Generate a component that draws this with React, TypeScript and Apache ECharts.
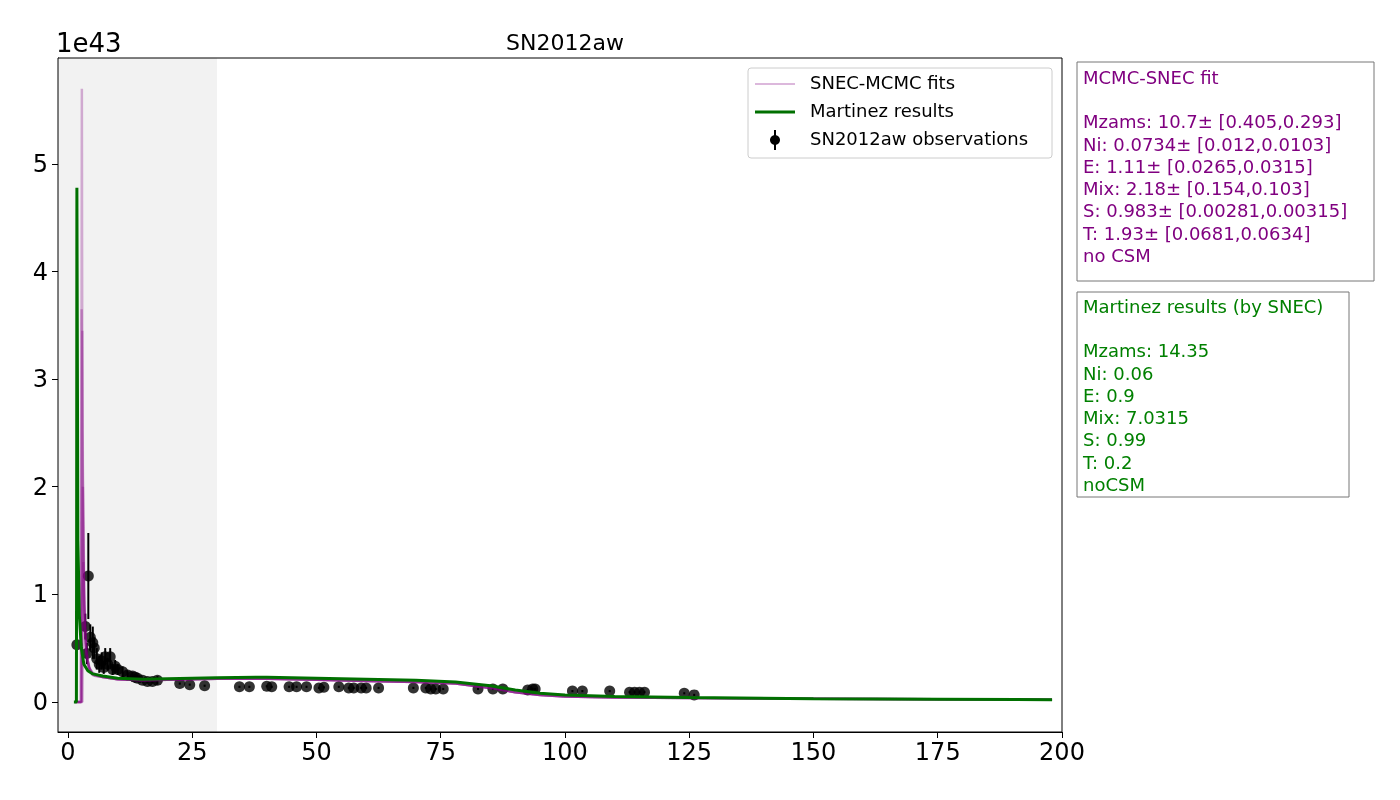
import React, { useEffect, useRef } from "react";
import * as echarts from "echarts";

const obsX = [1.8,3.5,4.1,3.8,4.5,5,5.3,5.8,6.3,6.8,7.2,7.5,8,8.5,9,9.5,10,11,12,13,13.5,14,15,16,17,18,22.5,24.5,27.5,34.5,36.5,40,41,44.5,46,48,50.5,51.5,54.5,56.5,57.5,59,60,62.5,69.5,72,73,74,75.5,82.5,85.5,87.5,92.5,93.5,94,101.5,103.5,109,113,114,115,116,124,126];
const obsY = [0.53,0.7,1.17,0.45,0.6,0.55,0.5,0.4,0.35,0.38,0.32,0.42,0.35,0.42,0.3,0.33,0.3,0.28,0.25,0.24,0.23,0.22,0.2,0.19,0.19,0.2,0.17,0.16,0.15,0.14,0.14,0.145,0.14,0.14,0.14,0.14,0.13,0.135,0.14,0.13,0.13,0.13,0.13,0.13,0.13,0.13,0.12,0.12,0.12,0.12,0.12,0.12,0.11,0.12,0.12,0.1,0.1,0.1,0.09,0.09,0.09,0.09,0.08,0.065];
const obsErr = [0.05,0.12,0.4,0.1,0.12,0.15,0.1,0.1,0.08,0.08,0.06,0.08,0.06,0.08,0.05,0.06,0.05,0.05,0.04,0.04,0.03,0.03,0.02,0.02,0.02,0.04,0.01,0.01,0.01,0.01,0.01,0.01,0.01,0.01,0.01,0.01,0.01,0.01,0.01,0.01,0.01,0.01,0.01,0.01,0.01,0.01,0.01,0.01,0.01,0.01,0.01,0.01,0.01,0.01,0.01,0.01,0.01,0.01,0.01,0.01,0.01,0.01,0.01,0.01];

const martinez = [[1.2,0],[1.7,0],[1.75,1.5],[1.8,4.78],[1.9,4.78],[2.0,1.5],[2.3,0.8],[2.7,0.5],[3.2,0.35],[4,0.29],[5,0.26],[7,0.24],[10,0.22],[15,0.21],[20,0.215],[30,0.225],[40,0.23],[50,0.22],[60,0.21],[70,0.2],[78,0.185],[85,0.15],[90,0.11],[95,0.08],[100,0.065],[110,0.05],[125,0.04],[150,0.03],[175,0.025],[198,0.02]];

const tail = [[7,0.23],[10,0.21],[15,0.2],[20,0.205],[30,0.215],[40,0.215],[50,0.205],[60,0.195],[70,0.185],[78,0.17],[85,0.13],[90,0.09],[95,0.065],[100,0.05],[110,0.04],[125,0.035],[150,0.03],[175,0.025],[198,0.02]];
const fit1 = [[1.5,0],[2.6,0],[2.7,2.0],[2.8,5.7],[2.9,2.5],[3.2,1.0],[3.6,0.5],[4.2,0.32],[5,0.27],...tail];
const fit2 = [[1.5,0],[2.6,0],[2.7,1.6],[2.75,3.65],[2.9,2.0],[3.2,0.9],[3.6,0.5],[4.2,0.32],[5,0.26],...tail];
const fit3 = [[1.5,0],[2.7,0],[2.8,1.6],[2.9,3.45],[3.0,2.2],[3.3,0.9],[3.7,0.45],[4.3,0.3],[5,0.25],...tail];
const fit4 = [[1.5,0],[2.8,0],[2.9,1.2],[3.0,2.0],[3.1,1.4],[3.4,0.7],[3.8,0.4],[4.4,0.3],[5,0.25],...tail];
const fit5 = [[1.5,0],[2.9,0],[3.0,0.9],[3.1,1.3],[3.3,0.9],[3.6,0.55],[4,0.38],[4.6,0.28],[5.5,0.24],...tail];
const fits = [fit1, fit2, fit3, fit4, fit5];

const xTicks = [0,25,50,75,100,125,150,175,200];
const yTicks = [0,1,2,3,4,5];

const mcmcText = ["MCMC-SNEC fit","","Mzams: 10.7± [0.405,0.293]","Ni: 0.0734± [0.012,0.0103]","E: 1.11± [0.0265,0.0315]","Mix: 2.18± [0.154,0.103]","S: 0.983± [0.00281,0.00315]","T: 1.93± [0.0681,0.0634]","no CSM"];
const martText = ["Martinez results (by SNEC)","","Mzams: 14.35","Ni: 0.06","E: 0.9","Mix: 7.0315","S: 0.99","T: 0.2","noCSM"];

const F = "DejaVu Sans";

export default function App() {
  const ref = useRef<HTMLDivElement>(null);
  useEffect(() => {
    const chart = echarts.init(ref.current!, null, { renderer: "svg" });
    const obs = obsX.map((x, i) => [x, obsY[i], obsErr[i]]);
    const series: any[] = [
      {
        type: "line", data: [], silent: true,
        markArea: { silent: true, itemStyle: { color: "#f2f2f2" }, data: [[{ xAxis: -2 }, { xAxis: 30 }]] },
      },
      ...fits.map((f) => ({
        type: "line", data: f, showSymbol: false, silent: true,
        lineStyle: { color: "purple", width: 2.5, opacity: 0.3 },
      })),
      {
        type: "line", data: martinez, showSymbol: false, silent: true,
        lineStyle: { color: "#007000", width: 3 },
      },
      {
        type: "custom", data: obs, silent: true,
        renderItem: (params: any, api: any) => {
          const x = api.value(0), y = api.value(1), e = api.value(2);
          const p1 = api.coord([x, y - e]);
          const p2 = api.coord([x, y + e]);
          return { type: "line", shape: { x1: p1[0], y1: p1[1], x2: p2[0], y2: p2[1] }, style: { stroke: "#000", lineWidth: 2 } };
        },
      },
      {
        type: "scatter", data: obs.map((o) => [o[0], o[1]]), symbolSize: 11, silent: true,
        itemStyle: { color: "#000" },
      },
    ];
    const txt = (lines: string[], color: string, x: number, y: number) => ({
      type: "text", left: x, top: y,
      style: { text: lines.join("\n"), fill: color, font: `18px "${F}"`, lineHeight: 22.3 },
    });
    chart.setOption({
      animation: false,
      grid: { left: 58, right: 338, top: 58, bottom: 68 },
      title: { text: "SN2012aw", left: 560, top: 26, textAlign: "center", textStyle: { fontFamily: F, fontSize: 22, fontWeight: "normal", color: "#000" } },
      xAxis: {
        type: "value", min: -2, max: 200,
        axisLine: { onZero: false, lineStyle: { color: "#000" } },
        splitLine: { show: false },
        axisTick: { customValues: xTicks, length: 6, lineStyle: { color: "#000" } },
        axisLabel: { customValues: xTicks, color: "#000", fontFamily: F, fontSize: 24, margin: 8 },
      },
      yAxis: {
        type: "value", min: -0.28, max: 5.985,
        axisLine: { show: true, onZero: false, lineStyle: { color: "#000" } },
        splitLine: { show: false },
        axisTick: { show: true, customValues: yTicks, length: 6, lineStyle: { color: "#000" } },
        axisLabel: { customValues: yTicks, color: "#000", fontFamily: F, fontSize: 24, margin: 10 },
      },
      series,
      graphic: [
        { type: "rect", shape: { x: 58, y: 58, width: 1004, height: 674 }, style: { fill: "none", stroke: "#000", lineWidth: 1 }, silent: true, z: 100 },
        { type: "text", left: 56, top: 30, style: { text: "1e43", fill: "#000", font: `26px "${F}"` } },
        { type: "rect", shape: { x: 748, y: 68, width: 304, height: 90, r: 3 }, style: { fill: "rgba(255,255,255,0.85)", stroke: "#ccc", lineWidth: 1 }, z: 50 },
        { type: "line", shape: { x1: 755, y1: 84, x2: 795, y2: 84 }, style: { stroke: "#dcb8dc", lineWidth: 2 }, z: 51 },
        { type: "line", shape: { x1: 755, y1: 112, x2: 795, y2: 112 }, style: { stroke: "#007000", lineWidth: 3 }, z: 51 },
        { type: "line", shape: { x1: 775, y1: 130, x2: 775, y2: 150 }, style: { stroke: "#000", lineWidth: 2 }, z: 51 },
        { type: "circle", shape: { cx: 775, cy: 140, r: 5 }, style: { fill: "#000" }, z: 51 },
        { type: "text", left: 810, top: 73, z: 51, style: { text: "SNEC-MCMC fits", fill: "#000", font: `18px "${F}"` } },
        { type: "text", left: 810, top: 101, z: 51, style: { text: "Martinez results", fill: "#000", font: `18px "${F}"` } },
        { type: "text", left: 810, top: 129, z: 51, style: { text: "SN2012aw observations", fill: "#000", font: `18px "${F}"` } },
        { type: "rect", shape: { x: 1077, y: 62, width: 297, height: 219 }, style: { fill: "#fff", stroke: "#777", lineWidth: 1 } },
        txt(mcmcText, "purple", 1083, 66),
        { type: "rect", shape: { x: 1077, y: 292, width: 272, height: 205 }, style: { fill: "#fff", stroke: "#777", lineWidth: 1 } },
        txt(martText, "green", 1083, 295),
      ],
    });
    return () => chart.dispose();
  }, []);
  return <div ref={ref} style={{ position: "fixed", left: 0, top: 0, width: 1400, height: 800 }} />;
}
